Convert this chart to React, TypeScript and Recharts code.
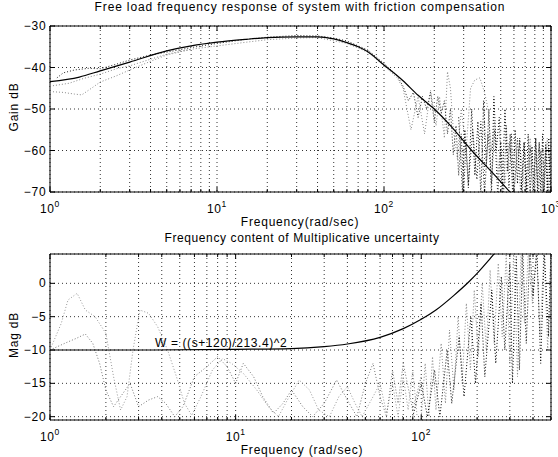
import React from 'react'
import {
  LineChart,
  Line,
  XAxis,
  YAxis,
  CartesianGrid,
  ReferenceArea,
  ReferenceDot,
} from 'recharts'

const FONT = '"Liberation Sans", Arial, Helvetica, sans-serif'

// --- top plot: free load frequency response ---
const topXTicks = [1, 2, 3, 4, 5, 6, 7, 8, 9, 10, 20, 30, 40, 50, 60, 70, 80, 90, 100, 200, 300, 400, 500, 600, 700, 800, 900, 1000]
const topYTicks = [-70, -60, -50, -40, -30]

const modelFreq = [1, 1.5, 2, 3, 5, 7, 10, 15, 20, 30, 40, 50, 60, 70, 80, 100, 130, 160, 200, 250, 335, 450, 568]
const modelGain = [-43.4, -42.3, -40.8, -38.7, -36.0, -34.8, -33.9, -33.2, -32.8, -32.6, -32.6, -33.1, -34.0, -35.0, -36.2, -39.4, -43.2, -46.7, -50.0, -54.0, -60.0, -65.5, -70.0]

const measAFreq = [1.1, 1.2, 1.4, 1.7, 2, 2.5, 3, 4, 5, 7, 10, 15, 20, 30, 40, 50, 60, 80, 100, 120,
  130, 140, 150, 160, 170, 180, 190, 200, 210, 220, 230, 240, 250, 260, 270, 280, 290, 300, 310, 320,
  340, 360, 380, 400, 420, 440, 460, 480, 500, 520, 540, 560, 580, 600, 630, 660, 690, 720, 750, 780,
  810, 840, 870, 900, 930, 960, 1000]
const measAGain = [-42.5, -41.3, -40.6, -40.2, -40.3, -39.2, -38.2, -37.0, -36.3, -35.2, -34.2, -33.2, -32.7, -32.3, -32.4, -32.9, -33.6, -35.8, -39.0, -42.0,
  -44.5, -48, -46, -52, -47, -50, -46, -53, -47, -51, -48, -56, -50, -61, -54, -66, -56, -70, -58, -68,
  -55, -67, -53, -71, -56, -68, -55, -71, -58, -71, -54, -69, -56, -71, -57, -71, -58, -71, -59, -71,
  -57, -71, -60, -71, -58, -71, -57]

const measBFreq = [1, 1.2, 1.4, 1.55, 1.8, 2, 2.5, 3, 4, 5, 7, 10, 15, 20, 30, 40, 60, 80, 100, 120,
  130, 145, 160, 175, 190, 205, 215, 230, 240, 250, 260, 275, 290, 310, 330, 350, 375, 400, 420, 440,
  460, 480, 500, 530, 560, 600, 650, 700, 750, 800, 850, 900, 950, 1000]
const measBGain = [-45.8, -46.0, -46.4, -46.6, -44.8, -43.5, -42.0, -40.6, -38.5, -37.0, -35.6, -34.8, -33.9, -33.3, -32.9, -32.8, -34.2, -36.3, -39.6, -42.5,
  -45, -55, -47, -56, -45.5, -54, -47, -57, -41, -45, -55, -62, -50, -60, -45, -43, -42.5, -46, -50, -60,
  -53, -66, -58, -68, -58, -69, -58, -71, -57, -69, -58, -71, -57, -66]

const measCFreq = [280, 295, 305, 320, 335, 350, 365, 380, 395, 410, 425, 440, 455, 470, 490, 510, 530, 550, 570, 590,
  610, 630, 650, 670, 690, 710, 730, 750, 770, 790, 810, 830, 850, 870, 890, 910, 930, 950, 970, 990, 1000]
const measCGain = [-52, -70, -55, -69, -50, -66, -53, -71, -48, -64, -50, -71, -47, -60, -52, -71, -50, -65, -56, -71,
  -55, -68, -57, -71, -58, -70, -56, -71, -59, -71, -57, -70, -58, -71, -56, -71, -59, -70, -57, -71, -60]

const measDFreq = [1, 1.3, 1.6, 2, 2.5, 3, 4, 5, 7]
const measDGain = [-44.5, -43.8, -42.6, -41.6, -40.3, -39.6, -38.0, -36.8, -35.6]

// --- bottom plot: multiplicative uncertainty ---
const botXTicks = [1, 2, 3, 4, 5, 6, 7, 8, 9, 10, 20, 30, 40, 50, 60, 70, 80, 90, 100, 200, 300, 400, 500]
const botYTicks = [-20, -15, -10, -5, 0]

const weightFreq = [1, 3, 10, 20, 30, 40, 60, 80, 100, 120, 150, 180, 200, 230, 250, 260]
const weightMag = [-10.0, -10.0, -9.9, -9.8, -9.5, -9.1, -8.1, -6.8, -5.4, -4.0, -1.8, 0.2, 1.5, 3.4, 4.6, 5.1]

const unc1Freq = [1, 1.15, 1.25, 1.4, 1.55, 1.75, 2, 2.2, 2.4, 2.6, 2.8, 3.05, 3.4, 3.8, 4.3, 4.8, 5.3, 5.8, 6.5, 7.5,
  8.5, 9.5, 11, 13, 15, 17, 19, 22, 25, 28, 32, 36, 40, 44, 48, 55, 60, 65, 70, 75, 80, 85, 90, 95]
const unc1Mag = [-10, -6, -2.5, -1.5, -4, -5, -7.5, -14, -19, -17, -10, -4, -4.5, -6.5, -10, -14, -18, -19.8, -17, -13,
  -11.3, -12, -13.5, -16, -18.5, -20, -17.5, -14.5, -16, -19, -20, -17, -15.5, -18, -20, -17, -15, -19.5, -15, -20, -14, -19, -13, -20]

const unc2Freq = [1, 1.2, 1.4, 1.55, 1.7, 1.85, 2, 2.2, 2.4, 2.7, 3, 3.4, 3.8, 4.2, 4.7, 5.2, 6, 7, 8, 9,
  10, 11, 12.5, 14, 16, 18, 20, 23, 26, 30, 35, 40, 45, 50, 55, 60, 65, 70, 75, 80, 90, 100]
const unc2Mag = [-10, -9, -8.2, -7.6, -9, -12, -16, -18.5, -17, -15, -18.5, -17.5, -17, -18, -20, -18.5, -14, -12.5, -11, -12.5,
  -15, -12, -14, -17, -19.5, -18, -16, -18.5, -20, -18, -14.5, -17.5, -20, -15, -12, -17, -20, -13, -18, -12, -19, -14]

const unc3Freq = [100, 105, 110, 115, 120, 128, 135, 142, 150, 158, 166, 175, 184, 193, 203, 213, 224, 235, 247, 260,
  273, 287, 300, 315, 330, 345, 360, 378, 397, 417, 437, 458, 480, 500]
const unc3Mag = [-20, -12, -20, -11, -19, -9, -18, -7, -16, -5, -15, -3, -13, -1, -11, 0, -10, 2, -9, 3,
  -8, 4.4, -12, 5, -14, 5, -6, 5, -3, 5, -8, 5, -10, 5]

const unc4Freq = [90, 100, 108, 118, 126, 138, 146, 160, 170, 185, 196, 210, 220, 240, 252, 270, 282, 300, 310, 325,
  338, 352, 368, 385, 400, 420, 440, 460, 485, 500]
const unc4Mag = [-20, -15, -20, -13, -20, -10, -18, -8, -17, -5, -15, -3, -14, -1, -12, 1, -10, 3, -15, 4,
  -13, 5, -9, 5, -2, 5, -12, 5, -8, 5]

const zip = (xs: number[], ys: number[]) => xs.map((x, i) => ({ x, y: ys[i] }))

const W = 558
const H = 229
const PLOT_TOP = 26
const PLOT_BOTTOM = 192
const PLOT_LEFT = 50
const PLOT_RIGHT = 551

const isMajor = (v: number) => Math.abs(Math.log10(v) - Math.round(Math.log10(v))) < 1e-9

const XTick = (props: any) => {
  const { x, payload } = props
  const v = payload.value
  const major = isMajor(v)
  const len = major ? 5 : 3
  return (
    <g>
      <line x1={x} x2={x} y1={PLOT_BOTTOM} y2={PLOT_BOTTOM - len} stroke="#000" />
      <line x1={x} x2={x} y1={PLOT_TOP} y2={PLOT_TOP + len} stroke="#000" />
      {major && (
        <text x={x} y={212.5} textAnchor="middle" fontSize={12} letterSpacing={0.6} fontFamily={FONT} fill="#000">
          10<tspan dy={-6} fontSize={8.5}>{Math.round(Math.log10(v))}</tspan>
        </text>
      )}
    </g>
  )
}

const YTick = (props: any) => {
  const { y, payload } = props
  const v = payload.value
  const label = v < 0 ? '\u2212' + Math.abs(v) : String(v)
  return (
    <g>
      <line x1={PLOT_LEFT} x2={PLOT_LEFT + 5} y1={y} y2={y} stroke="#000" />
      <line x1={PLOT_RIGHT} x2={PLOT_RIGHT - 5} y1={y} y2={y} stroke="#000" />
      <text x={46.5} y={y + 4} textAnchor="end" fontSize={12} letterSpacing={0.8} fontFamily={FONT} fill="#000">
        {label}
      </text>
    </g>
  )
}

const dotted = { strokeWidth: 1, strokeDasharray: '1 2', dot: false, isAnimationActive: false, type: 'linear' as const }

export default function App() {
  return (
    <div style={{ position: 'fixed', left: 0, top: 0, width: W, height: 457, background: '#fff', overflow: 'hidden' }}>
      <div style={{ position: 'absolute', left: 0, top: 0 }}>
        <LineChart width={W} height={H} margin={{ top: PLOT_TOP, right: W - PLOT_RIGHT, bottom: 0, left: 0 }}>
          <CartesianGrid stroke="#000" strokeDasharray="1 3" strokeWidth={0.8} />
          <XAxis
            dataKey="x"
            type="number"
            scale="log"
            domain={[1, 1000]}
            ticks={topXTicks}
            interval={0}
            allowDataOverflow
            axisLine={false}
            tickLine={false}
            height={H - PLOT_BOTTOM}
            tick={(p: any) => <XTick {...p} />}
          />
          <YAxis
            type="number"
            domain={[-70, -30]}
            ticks={topYTicks}
            interval={0}
            allowDataOverflow
            axisLine={false}
            tickLine={false}
            width={PLOT_LEFT}
            tick={(p: any) => <YTick {...p} />}
          />
          <Line data={zip(measDFreq, measDGain)} dataKey="y" stroke="#888" {...dotted} />
          <Line data={zip(measBFreq, measBGain)} dataKey="y" stroke="#8a8a8a" {...dotted} />
          <Line data={zip(measAFreq, measAGain)} dataKey="y" stroke="#222" {...dotted} />
          <Line data={zip(measCFreq, measCGain)} dataKey="y" stroke="#000" {...dotted} />
          <Line data={zip(modelFreq, modelGain)} dataKey="y" stroke="#000" strokeWidth={1.2} dot={false} type="monotone" isAnimationActive={false} />
          <ReferenceArea x1={1} x2={1000} y1={-70} y2={-30} fill="none" stroke="#000" strokeWidth={1} ifOverflow="visible" />
        </LineChart>
      </div>

      <div style={{ position: 'absolute', left: 0, top: 228 }}>
        <LineChart width={W} height={H} margin={{ top: PLOT_TOP, right: W - PLOT_RIGHT, bottom: 0, left: 0 }}>
          <CartesianGrid stroke="#000" strokeDasharray="1 3" strokeWidth={0.8} />
          <XAxis
            dataKey="x"
            type="number"
            scale="log"
            domain={[1, 500]}
            ticks={botXTicks}
            interval={0}
            allowDataOverflow
            axisLine={false}
            tickLine={false}
            height={H - PLOT_BOTTOM}
            tick={(p: any) => <XTick {...p} />}
          />
          <YAxis
            type="number"
            domain={[-20.5, 4.4]}
            ticks={botYTicks}
            interval={0}
            allowDataOverflow
            axisLine={false}
            tickLine={false}
            width={PLOT_LEFT}
            tick={(p: any) => <YTick {...p} />}
          />
          <Line data={zip(unc1Freq, unc1Mag)} dataKey="y" stroke="#999" {...dotted} />
          <Line data={zip(unc2Freq, unc2Mag)} dataKey="y" stroke="#777" {...dotted} />
          <Line data={zip(unc3Freq, unc3Mag)} dataKey="y" stroke="#888" {...dotted} />
          <Line data={zip(unc4Freq, unc4Mag)} dataKey="y" stroke="#000" {...dotted} />
          <Line data={zip(weightFreq, weightMag)} dataKey="y" stroke="#000" strokeWidth={1.2} dot={false} type="monotone" isAnimationActive={false} />
          <ReferenceDot
            x={3.68}
            y={-9.55}
            r={0}
            ifOverflow="visible"
            shape={(p: any) => (
              <text x={p.cx} y={p.cy} fontSize={12} letterSpacing={0.6} fontFamily={FONT} fill="#000">
                W = ((s+120)/213.4)^2
              </text>
            )}
          />
          <ReferenceArea x1={1} x2={500} y1={-20.5} y2={4.4} fill="none" stroke="#000" strokeWidth={1} ifOverflow="visible" />
        </LineChart>
      </div>

      <svg width={W} height={457} style={{ position: 'absolute', left: 0, top: 0, pointerEvents: 'none' }}>
        <g fontFamily={FONT} fontSize={12} fill="#000">
          <text x={300} y={10.5} textAnchor="middle" letterSpacing={0.85}>Free load frequency response of system with friction compensation</text>
          <text x={300} y={226} textAnchor="middle" letterSpacing={0.8}>Frequency(rad/sec)</text>
          <text x={302} y={242} textAnchor="middle" letterSpacing={0.6}>Frequency content of Multiplicative uncertainty</text>
          <text x={302} y={454} textAnchor="middle" letterSpacing={0.8}>Frequency (rad/sec)</text>
          <text transform="translate(18,107) rotate(-90)" textAnchor="middle" letterSpacing={0.8}>Gain dB</text>
          <text transform="translate(18,335) rotate(-90)" textAnchor="middle" letterSpacing={0.8}>Mag dB</text>
        </g>
      </svg>
    </div>
  )
}
